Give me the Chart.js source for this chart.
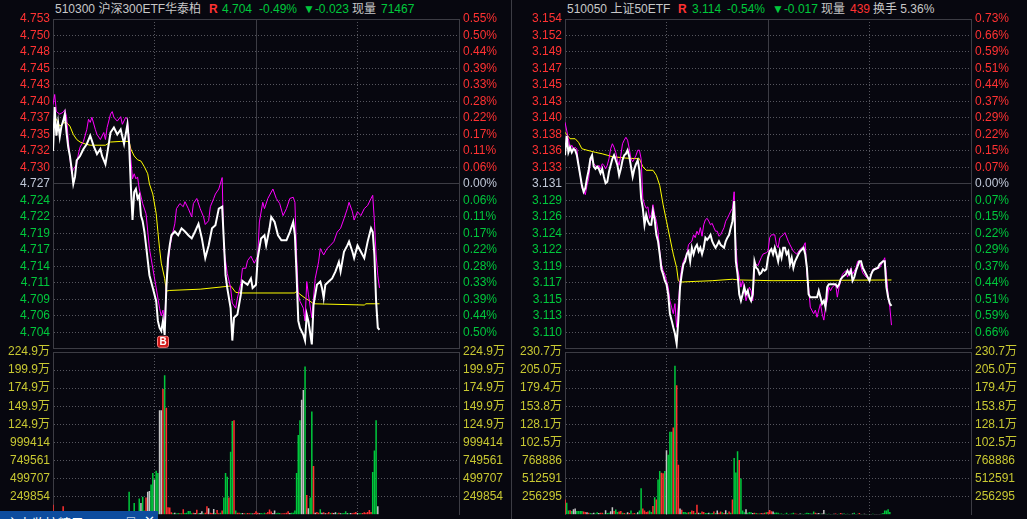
<!DOCTYPE html>
<html lang="zh">
<head>
<meta charset="utf-8">
<title>分时图</title>
<script src="https://cdn.jsdelivr.net/npm/chart.js@4.4.1/dist/chart.umd.min.js"></script>
<style>
  html, body { margin: 0; padding: 0; }
  body { width: 1027px; height: 519px; overflow: hidden; position: relative; background: #07070f;
         font-family: "Liberation Sans", "Noto Sans CJK SC", sans-serif; }
  canvas { position: absolute; }
  .t { position: absolute; top: 0; height: 18px; line-height: 18px; font-size: 12px; white-space: nowrap; color: #c8c8c8; }
  .r { color: #ff3232; }
  .g { color: #00c83c; }
  .b { font-weight: bold; }
  #sep { position: absolute; left: 511px; top: 0; width: 1px; height: 519px; background: #3c3c44; }
  #tool { position: absolute; left: 0; top: 511px; width: 158px; height: 8px; background: #0d4c9e; overflow: hidden; color: #fff; font-size: 13px; }
  #tool span { position: absolute; top: 2px; white-space: nowrap; }
</style>
</head>
<body>
<div class="t" style="left:55px">510300 沪深300ETF华泰柏</div>
<div class="t r b" style="left:209px">R</div>
<div class="t g" style="left:222px">4.704</div>
<div class="t g" style="left:259px">-0.49%</div>
<div class="t g" style="left:303px">▼-0.023</div>
<div class="t" style="left:352px">现量</div>
<div class="t g" style="left:381px">71467</div>

<div class="t" style="left:567px">510050 上证50ETF</div>
<div class="t r b" style="left:678px">R</div>
<div class="t g" style="left:692px">3.114</div>
<div class="t g" style="left:727px">-0.54%</div>
<div class="t g" style="left:772px">▼-0.017</div>
<div class="t" style="left:821px">现量</div>
<div class="t r" style="left:850px">439</div>
<div class="t" style="left:873px">换手 5.36%</div>

<canvas id="hsPriceCv" width="511" height="360" style="left:0;top:0"></canvas>
<canvas id="hsVolCv" width="511" height="186" style="left:0;top:340px"></canvas>
<canvas id="szPriceCv" width="515" height="360" style="left:512px;top:0"></canvas>
<canvas id="szVolCv" width="515" height="186" style="left:512px;top:340px"></canvas>
<div id="sep"></div>
<div id="tool"><span style="left:6px">主力监控精灵</span><span style="left:127px">□</span><span style="left:144px">✕</span></div>

<script>
// ---------- 510300 沪深300ETF ----------
const hsPrevClose = 4.727;
const hsPriceTicks = ['4.753','4.750','4.748','4.745','4.743','4.740','4.737','4.735','4.732','4.730',
                      '4.727','4.724','4.722','4.719','4.717','4.714','4.711','4.709','4.706','4.704'];
const hsPctTicks = ['0.55%','0.50%','0.44%','0.39%','0.33%','0.28%','0.22%','0.17%','0.11%','0.06%',
                    '0.00%','0.06%','0.11%','0.17%','0.22%','0.28%','0.33%','0.39%','0.44%','0.50%'];
const hsVolTicks = ['249854','499707','749561','999414','124.9万','149.9万','174.9万','199.9万','224.9万'];
const hsVolUnit = 249853.6;

// [minute, price]
const hsPrice = [[0,4.7322],[1,4.7391],[2,4.7346],[3,4.7367],[4,4.7344],[5,4.7361],[6,4.7369],[7,4.7380],[8,4.7351],[9,4.7328],
  [10,4.7314],[11,4.7294],[12,4.7270],[13,4.7281],[14,4.7307],[16,4.7314],[18,4.7325],[20,4.7333],[22,4.7346],[24,4.7330],
  [26,4.7317],[28,4.7325],[29,4.7314],[31,4.7301],[32,4.7317],[34,4.7351],[36,4.7359],[38,4.7348],[40,4.7356],[42,4.7333],
  [44,4.7364],[45,4.7333],[46,4.7267],[47,4.7213],[48,4.7257],[49,4.7262],[50,4.7247],[51,4.7252],[52,4.7220],[53,4.7211],
  [54,4.7195],[55,4.7173],[57,4.7126],[59,4.7106],[61,4.7085],[62,4.7054],[63,4.7043],[64,4.7038],[65,4.7054],[66,4.7032],
  [67,4.7106],[68,4.7153],[69,4.7173],[70,4.7189],[72,4.7195],[74,4.7189],[76,4.7200],[78,4.7195],[80,4.7189],[82,4.7184],
  [84,4.7195],[86,4.7207],[88,4.7184],[90,4.7153],[92,4.7173],[94,4.7200],[96,4.7205],[98,4.7231],[100,4.7234],[102,4.7126],
  [103,4.7106],[105,4.7074],[106,4.7023],[107,4.7059],[109,4.7064],[111,4.7095],[112,4.7117],[115,4.7111],[117,4.7121],[118,4.7106],
  [120,4.7111],[121,4.7153],[123,4.7184],[125,4.7189],[126,4.7173],[128,4.7200],[129,4.7218],[131,4.7210],[133,4.7189],[135,4.7181],
  [138,4.7181],[140,4.7194],[142,4.7210],[143,4.7189],[144,4.7126],[145,4.7054],[146,4.7043],[148,4.7032],[149,4.7023],[150,4.7064],
  [151,4.7053],[153,4.7017],[154,4.7079],[156,4.7111],[158,4.7116],[159,4.7106],[160,4.7090],[161,4.7111],[163,4.7116],[165,4.7121],
  [167,4.7132],[169,4.7147],[170,4.7132],[172,4.7163],[174,4.7173],[175,4.7179],[177,4.7163],[178,4.7153],[180,4.7173],[182,4.7163],
  [184,4.7153],[186,4.7179],[188,4.7200],[189,4.7194],[190,4.7158],[191,4.7085],[192,4.7043],[193,4.7040]];

// overlaid index (magenta)
const hsIndex = [[0,4.7395],[1,4.7411],[2,4.7384],[4,4.7380],[6,4.7383],[7,4.7387],[8,4.7376],[9,4.7340],[10,4.7312],[11,4.7286],
  [12,4.7293],[14,4.7301],[15,4.7317],[16,4.7328],[18,4.7337],[20,4.7356],[21,4.7372],[22,4.7367],[23,4.7375],[25,4.7356],
  [26,4.7348],[28,4.7340],[30,4.7351],[31,4.7340],[32,4.7359],[34,4.7380],[35,4.7384],[36,4.7375],[38,4.7369],[40,4.7376],
  [41,4.7364],[43,4.7375],[44,4.7372],[46,4.7309],[47,4.7278],[48,4.7286],[49,4.7278],[50,4.7281],[51,4.7262],[53,4.7239],
  [55,4.7223],[57,4.7168],[59,4.7137],[61,4.7106],[63,4.7074],[64,4.7062],[65,4.7071],[66,4.7051],[67,4.7113],[69,4.7168],
  [70,4.7184],[72,4.7207],[73,4.7231],[75,4.7239],[77,4.7234],[78,4.7242],[80,4.7231],[82,4.7218],[83,4.7239],[85,4.7247],
  [87,4.7231],[89,4.7218],[90,4.7206],[92,4.7212],[93,4.7234],[95,4.7247],[96,4.7254],[98,4.7262],[100,4.7280],[101,4.7168],
  [103,4.7129],[105,4.7106],[106,4.7082],[108,4.7074],[109,4.7090],[111,4.7113],[112,4.7137],[114,4.7137],[115,4.7149],[117,4.7156],
  [119,4.7145],[121,4.7156],[122,4.7210],[124,4.7241],[125,4.7231],[127,4.7247],[130,4.7262],[132,4.7247],[134,4.7239],[136,4.7220],
  [138,4.7231],[140,4.7247],[142,4.7249],[143,4.7241],[144,4.7158],[145,4.7095],[146,4.7085],[148,4.7074],[149,4.7054],[150,4.7116],
  [151,4.7095],[153,4.7059],[155,4.7121],[157,4.7147],[158,4.7168],[160,4.7158],[162,4.7168],[164,4.7173],[166,4.7179],[168,4.7194],
  [170,4.7200],[172,4.7215],[174,4.7231],[175,4.7241],[177,4.7226],[178,4.7213],[180,4.7226],[182,4.7220],[184,4.7231],[186,4.7236],
  [188,4.7247],[189,4.7252],[190,4.7211],[191,4.7158],[192,4.7126],[193,4.7106]];

// average price (yellow)
const hsAvg = [[1,4.7375],[2,4.7372],[4,4.7361],[6,4.7366],[8,4.7367],[10,4.7361],[12,4.7348],[14,4.7340],[16,4.7336],[19,4.7333],
  [22,4.7331],[31,4.7331],[34,4.7336],[40,4.7337],[45,4.7337],[46,4.7325],[48,4.7314],[50,4.7308],[52,4.7306],[54,4.7297],
  [56,4.7286],[57,4.7270],[59,4.7254],[61,4.7223],[62,4.7195],[63,4.7168],[64,4.7145],[66,4.7121],[67,4.7101],[69,4.7102],
  [87,4.7104],[105,4.7109],[106,4.7106],[108,4.7099],[111,4.7098],[143,4.7098],[144,4.7101],[146,4.7096],[149,4.7090],[152,4.7085],
  [154,4.7081],[184,4.7079],[185,4.7081],[193,4.7081]];

// volume per minute, and bar colour (r up, g down, w flat)
const hsVol = [140000,45000,38000,30000,52000,28000,117000,35000,42000,50000,
  38000,45000,30000,26000,33000,22000,30000,25000,28000,20000,
  35000,24000,22000,30000,26000,20000,28000,22000,18000,24000,
  20000,25000,30000,28000,32000,26000,22000,24000,20000,22000,
  26000,30000,24000,28000,35000,320000,50000,40000,162000,45000,
  40000,225000,162000,249000,60000,238000,320000,330000,419000,577000,
  486000,608000,577000,1445000,1445000,1738000,1927000,1478000,104000,100000,
  36000,20000,30000,18000,25000,20000,22000,77000,24000,28000,
  54000,54000,22000,30000,26000,70000,20000,25000,50000,22000,
  30000,117000,90000,30000,25000,80000,26000,68000,22000,28000,
  60000,238000,577000,527000,238000,870000,1297000,1306000,60000,30000,
  30000,22000,25000,20000,18000,24000,20000,22000,18000,26000,
  50000,30000,20000,24000,18000,28000,22000,40000,72000,45000,
  24000,60000,22000,30000,26000,18000,20000,22000,30000,50000,
  24000,30000,30000,60000,577000,1103000,1306000,1590000,1725000,2049000,
  275000,90000,238000,1428000,675000,30000,40000,30000,75000,30000,
  35000,20000,22000,40000,24000,30000,25000,35000,20000,28000,
  22000,20000,26000,50000,22000,20000,24000,22000,30000,40000,
  24000,20000,22000,26000,35000,30000,40000,68000,40000,590000,
  887000,1306000,117000];
const hsDir = ('rgrgrwrggg rgrrrwrgrr rgrggwgrgg rgrrrrwgrg rgrrgggggg ggwggrwwgg wggwwrgrrr rgwggrgrgg gggrwrgwwg rrwrrwgrrg ' +
  'rgggrggrgr rgwrgrrgwr rrwgggrrrr wwgggrrrrr wggggggwwg rwggrwrrgw rwrrgrwwgr wgggwgwrrr wggrrrrrrg ggw').replace(/ /g, '').split('');

const buyMark = { minute: 65.3, text: 'B' };

// ---------- 510050 上证50ETF ----------
const szPrevClose = 3.131;
const szPriceTicks = ['3.154','3.152','3.149','3.147','3.145','3.143','3.140','3.138','3.136','3.133',
                      '3.131','3.129','3.126','3.124','3.122','3.119','3.117','3.115','3.113','3.110'];
const szPctTicks = ['0.73%','0.66%','0.59%','0.51%','0.44%','0.37%','0.29%','0.22%','0.15%','0.07%',
                    '0.00%','0.07%','0.15%','0.22%','0.29%','0.37%','0.44%','0.51%','0.59%','0.66%'];
const szVolTicks = ['256295','512591','768886','102.5万','128.1万','153.8万','179.4万','205.0万','230.7万'];
const szVolUnit = 256295.3;

const szPrice = [[0,3.1350],[1,3.1377],[2,3.1354],[3,3.1361],[4,3.1354],[5,3.1359],[6,3.1357],[7,3.1350],[8,3.1336],[9,3.1322],
  [10,3.1308],[11,3.1299],[12,3.1304],[13,3.1318],[14,3.1329],[15,3.1345],[16,3.1350],[17,3.1334],[18,3.1331],[19,3.1334],
  [20,3.1331],[21,3.1325],[22,3.1331],[23,3.1320],[24,3.1311],[25,3.1313],[26,3.1327],[27,3.1336],[28,3.1345],[29,3.1350],
  [30,3.1343],[31,3.1336],[32,3.1322],[33,3.1331],[34,3.1343],[35,3.1350],[36,3.1352],[37,3.1357],[38,3.1348],[39,3.1334],
  [40,3.1320],[41,3.1331],[42,3.1338],[43,3.1343],[44,3.1329],[45,3.1290],[46,3.1276],[47,3.1253],[48,3.1267],[49,3.1258],
  [50,3.1253],[51,3.1253],[52,3.1272],[53,3.1260],[54,3.1239],[55,3.1230],[56,3.1212],[57,3.1191],[58,3.1184],[59,3.1175],
  [60,3.1170],[61,3.1156],[62,3.1129],[63,3.1120],[64,3.1110],[65,3.1101],[66,3.1087],[67,3.1120],[68,3.1166],[69,3.1184],
  [70,3.1198],[71,3.1202],[72,3.1212],[73,3.1216],[74,3.1202],[75,3.1221],[76,3.1212],[77,3.1221],[78,3.1225],[79,3.1216],
  [80,3.1221],[81,3.1212],[82,3.1221],[83,3.1235],[84,3.1232],[85,3.1235],[86,3.1239],[87,3.1230],[88,3.1225],[89,3.1221],
  [90,3.1225],[91,3.1230],[92,3.1225],[93,3.1223],[94,3.1221],[95,3.1230],[96,3.1235],[97,3.1239],[98,3.1249],[99,3.1258],
  [100,3.1286],[101,3.1202],[102,3.1184],[103,3.1156],[104,3.1147],[105,3.1156],[106,3.1166],[107,3.1156],[108,3.1161],[109,3.1152],
  [110,3.1147],[111,3.1156],[112,3.1202],[113,3.1193],[114,3.1191],[115,3.1184],[116,3.1186],[117,3.1191],[118,3.1189],[119,3.1191],
  [120,3.1207],[121,3.1216],[122,3.1219],[123,3.1212],[124,3.1221],[125,3.1212],[126,3.1202],[127,3.1216],[128,3.1207],[129,3.1221],
  [130,3.1221],[131,3.1212],[132,3.1216],[133,3.1198],[134,3.1207],[135,3.1193],[136,3.1202],[137,3.1207],[138,3.1212],[139,3.1216],
  [141,3.1221],[142,3.1212],[143,3.1193],[144,3.1156],[145,3.1152],[147,3.1152],[149,3.1152],[150,3.1161],[151,3.1152],[152,3.1143],
  [153,3.1147],[154,3.1138],[155,3.1166],[156,3.1170],[158,3.1170],[160,3.1170],[161,3.1166],[162,3.1170],[163,3.1177],[164,3.1180],
  [166,3.1184],[167,3.1189],[168,3.1184],[169,3.1189],[170,3.1175],[171,3.1180],[172,3.1189],[174,3.1202],[175,3.1202],[176,3.1193],
  [178,3.1184],[180,3.1175],[181,3.1184],[182,3.1189],[183,3.1191],[185,3.1193],[186,3.1198],[187,3.1200],[188,3.1202],[189,3.1202],
  [190,3.1166],[191,3.1152],[192,3.1143],[193,3.1140]];

const szIndex = [[0,3.1396],[2,3.1373],[3,3.1359],[4,3.1364],[5,3.1359],[6,3.1361],[7,3.1359],[8,3.1336],[9,3.1322],[10,3.1304],
  [11,3.1301],[12,3.1295],[13,3.1308],[14,3.1318],[15,3.1341],[16,3.1345],[17,3.1338],[18,3.1336],[19,3.1331],[20,3.1336],
  [21,3.1331],[22,3.1338],[23,3.1336],[24,3.1331],[25,3.1336],[26,3.1345],[27,3.1359],[28,3.1366],[29,3.1361],[30,3.1354],
  [31,3.1343],[32,3.1336],[33,3.1350],[34,3.1366],[35,3.1371],[36,3.1375],[37,3.1371],[38,3.1359],[39,3.1345],[40,3.1341],
  [41,3.1345],[42,3.1350],[43,3.1357],[44,3.1357],[45,3.1345],[46,3.1290],[47,3.1281],[48,3.1276],[49,3.1278],[50,3.1262],
  [51,3.1267],[52,3.1281],[53,3.1267],[54,3.1258],[55,3.1244],[56,3.1216],[57,3.1198],[58,3.1189],[59,3.1184],[60,3.1175],
  [61,3.1166],[62,3.1147],[63,3.1138],[64,3.1129],[65,3.1143],[66,3.1110],[67,3.1143],[68,3.1175],[69,3.1193],[70,3.1202],
  [71,3.1207],[72,3.1212],[73,3.1225],[74,3.1228],[75,3.1230],[76,3.1239],[77,3.1235],[78,3.1244],[79,3.1239],[80,3.1249],
  [81,3.1237],[82,3.1253],[83,3.1260],[84,3.1262],[85,3.1258],[86,3.1253],[87,3.1255],[88,3.1249],[89,3.1244],[90,3.1244],
  [91,3.1237],[92,3.1239],[93,3.1244],[94,3.1249],[95,3.1258],[96,3.1262],[97,3.1267],[98,3.1272],[99,3.1276],[100,3.1299],
  [101,3.1225],[102,3.1193],[103,3.1180],[104,3.1166],[105,3.1175],[106,3.1161],[107,3.1147],[108,3.1156],[109,3.1166],[110,3.1161],
  [111,3.1147],[112,3.1193],[113,3.1198],[114,3.1196],[116,3.1207],[117,3.1212],[119,3.1214],[120,3.1216],[121,3.1235],[122,3.1239],
  [124,3.1239],[125,3.1225],[126,3.1221],[127,3.1235],[129,3.1239],[130,3.1242],[132,3.1230],[133,3.1225],[135,3.1216],[137,3.1212],
  [139,3.1219],[141,3.1223],[142,3.1228],[143,3.1184],[144,3.1166],[145,3.1138],[147,3.1129],[148,3.1134],[149,3.1124],[150,3.1134],
  [151,3.1143],[152,3.1129],[153,3.1120],[154,3.1138],[155,3.1147],[156,3.1166],[157,3.1161],[158,3.1166],[160,3.1170],[161,3.1152],
  [162,3.1166],[163,3.1175],[164,3.1184],[166,3.1189],[167,3.1180],[169,3.1193],[170,3.1184],[172,3.1193],[173,3.1202],[174,3.1202],
  [176,3.1186],[178,3.1180],[180,3.1177],[181,3.1184],[182,3.1191],[184,3.1191],[186,3.1193],[188,3.1202],[189,3.1207],[190,3.1184],
  [191,3.1156],[192,3.1138],[193,3.1113]];

const szAvg = [[0,3.1382],[3,3.1373],[6,3.1373],[8,3.1368],[10,3.1359],[13,3.1357],[18,3.1354],[22,3.1352],[25,3.1350],[28,3.1348],
  [36,3.1346],[44,3.1345],[46,3.1334],[48,3.1329],[52,3.1329],[54,3.1322],[56,3.1308],[58,3.1281],[60,3.1258],[62,3.1235],
  [64,3.1212],[66,3.1193],[67,3.1175],[68,3.1173],[77,3.1174],[87,3.1175],[99,3.1177],[103,3.1176],[123,3.1175],[193,3.1176]];

const szVol = [218000,171000,60000,65000,55000,80000,88000,55000,55000,55000,
  55000,45000,40000,35000,30000,25000,20000,30000,20000,35000,
  25000,30000,30000,20000,65000,25000,30000,50000,107000,55000,
  76000,40000,45000,55000,30000,25000,20000,35000,25000,60000,
  20000,25000,20000,35000,60000,375000,90000,60000,40000,45000,
  60000,40000,125000,250000,218000,500000,621000,597000,590000,621000,
  913000,850000,1177000,1177000,1237000,2113000,1835000,709000,90000,70000,
  40000,40000,30000,35000,40000,60000,55000,25000,143000,30000,
  25000,45000,40000,25000,25000,30000,20000,25000,45000,25000,
  60000,30000,45000,35000,25000,65000,25000,45000,30000,218000,
  806000,600000,899000,778000,514000,60000,35000,80000,30000,40000,
  35000,25000,30000,25000,20000,20000,25000,20000,30000,35000,
  40000,68000,50000,45000,30000,32000,28000,15000,18000,12000,
  15000,30000,12000,15000,20000,30000,18000,15000,12000,20000,
  15000,12000,18000,30000,25000,20000,15000,45000,30000,20000,
  25000,15000,20000,68000,15000,12000,15000,10000,12000,15000,
  18000,12000,15000,25000,15000,18000,12000,15000,10000,12000,
  18000,30000,12000,15000,25000,12000,10000,15000,12000,10000,
  12000,10000,15000,10000,12000,10000,12000,15000,25000,60000,
  60000,80000,40000];
const szDir = ('rggrgwwggg grrwrgwwgg wrrgwggwwr ggrrgrgwrg rrgwggrrrr ggrgrggrrg wgggrgrrwr gggrgrrgrw grrggwggrg wrrgrwgrgr ' +
  'gggrgggwgg gwrgrgrwrg rrrwgggggw ggwgggrrww gwggggwgrw wgwwgwgwgw rwgrwgwgwg wgwgrwgwwg wwgwwwwggg ggg').replace(/ /g, '').split('');

// ---------- drawing ----------
const RED = '#ff3232', GREEN = '#00c83c', MID = '#c0c8d8', VOLTXT = '#c8c832';
const SOLID = '#3c3c44', DOT = '#56565e';
const BAR = { r: '#ff3030', g: '#00c83c', w: '#c4c4c4' };
const PLOT_W = 406, LEFT_W = 53;

Chart.defaults.font.family = '"Liberation Sans", "Noto Sans CJK SC", sans-serif';
Chart.defaults.font.size = 12;

function pts(arr) {
  return arr.map(p => ({ x: p[0], y: p[1] }));
}

function timeAxis() {
  return {
    type: 'linear', min: 0, max: 240, offset: false,
    afterBuildTicks: s => { s.ticks = [0, 60, 120, 180, 240].map(v => ({ value: v })); },
    ticks: { display: false },
    grid: {
      offset: false, drawTicks: false,
      color: c => {
        const v = c.tick ? c.tick.value : 0;
        if (v === 120) return SOLID;
        return (v === 60 || v === 180) ? DOT : 'rgba(0,0,0,0)';
      }
    },
    border: { display: false, dash: c => (c.tick && c.tick.value !== 120) ? [1, 2] : [] }
  };
}

function sideAxis(pos, min, max, n, width, pad, label, color, gridOn, solidIdx) {
  return {
    type: 'linear', position: pos, min: min, max: max,
    afterBuildTicks: s => {
      s.ticks = [];
      for (let i = 0; i <= n; i++) s.ticks.push({ value: min + (max - min) * i / n });
    },
    afterFit: s => { s.width = width; },
    ticks: { autoSkip: false, padding: pad, color: color, callback: (v, i) => label(i) },
    grid: {
      display: gridOn, drawTicks: false,
      color: c => solidIdx.includes(c.index) ? SOLID : (c.index === 0 ? 'rgba(0,0,0,0)' : DOT)
    },
    border: {
      display: true, color: SOLID,
      dash: c => (c.tick && !solidIdx.includes(c.index)) ? [1, 2] : []
    }
  };
}

const markPlugin = {
  id: 'buyMark',
  afterDatasetsDraw(chart, args, opts) {
    if (!opts || !opts.show) return;
    const { ctx, chartArea, scales } = chart;
    const cx = Math.round(scales.x.getPixelForValue(buyMark.minute));
    const top = chartArea.bottom - 13;
    ctx.save();
    ctx.fillStyle = '#d01818';
    ctx.strokeStyle = '#ff8080';
    ctx.lineWidth = 1;
    ctx.beginPath();
    ctx.roundRect(cx - 5.5, top + 0.5, 11, 11, 2);
    ctx.fill();
    ctx.stroke();
    ctx.fillStyle = '#ffffff';
    ctx.font = 'bold 10px "Liberation Sans"';
    ctx.textAlign = 'center';
    ctx.textBaseline = 'middle';
    ctx.fillText(buyMark.text, cx, top + 6.5);
    ctx.restore();
  }
};

function priceChart(id, totalW, prevClose, priceTicks, pctTicks, price, index, avg, showMark) {
  const range = parseFloat(priceTicks[0]) - prevClose;
  const rightW = totalW - LEFT_W - PLOT_W;
  const priceColor = c => c.index > 10 ? RED : (c.index === 10 ? MID : GREEN);
  return new Chart(document.getElementById(id), {
    type: 'line',
    data: {
      datasets: [
        { data: pts(price), borderColor: '#ffffff', borderWidth: 2, order: 0 },
        { data: pts(index), borderColor: '#ff00ff', borderWidth: 1, order: 1 },
        { data: pts(avg), borderColor: '#ffff00', borderWidth: 1, order: 2 }
      ]
    },
    options: {
      responsive: false, animation: false, devicePixelRatio: 1, events: [],
      layout: { padding: { top: 19, bottom: 8, left: 0, right: 0 } },
      elements: { point: { radius: 0 }, line: { tension: 0 } },
      plugins: { legend: { display: false }, tooltip: { enabled: false }, buyMark: { show: showMark } },
      scales: {
        x: timeAxis(),
        y: sideAxis('left', prevClose - range, prevClose + range, 20, LEFT_W, 3,
                    i => i === 0 ? '' : priceTicks[20 - i], priceColor, true, [0, 10, 20]),
        yr: sideAxis('right', 0, 20, 20, rightW, 4,
                     i => i === 0 ? '' : pctTicks[20 - i], priceColor, false, [0, 10, 20])
      }
    },
    plugins: [markPlugin]
  });
}

function volumeChart(id, totalW, vol, dir, unit, volTicks) {
  const rightW = totalW - LEFT_W - PLOT_W;
  return new Chart(document.getElementById(id), {
    type: 'bar',
    data: {
      datasets: [{
        data: vol.map((v, i) => ({ x: i, y: v })),
        backgroundColor: dir.map(d => BAR[d]),
        borderWidth: 0, barPercentage: 0.9, categoryPercentage: 1
      }]
    },
    options: {
      responsive: false, animation: false, devicePixelRatio: 1, events: [],
      layout: { padding: { top: 12, bottom: 8, left: 0, right: 0 } },
      plugins: { legend: { display: false }, tooltip: { enabled: false } },
      scales: {
        x: timeAxis(),
        y: sideAxis('left', 0, unit * 9, 9, LEFT_W, 3,
                    i => i === 0 ? '' : volTicks[i - 1], VOLTXT, true, [9]),
        yr: sideAxis('right', 0, 9, 9, rightW, 4,
                     i => i === 0 ? '' : volTicks[i - 1], VOLTXT, false, [9])
      }
    }
  });
}

priceChart('hsPriceCv', 511, hsPrevClose, hsPriceTicks, hsPctTicks, hsPrice, hsIndex, hsAvg, true);
volumeChart('hsVolCv', 511, hsVol, hsDir, hsVolUnit, hsVolTicks);
priceChart('szPriceCv', 515, szPrevClose, szPriceTicks, szPctTicks, szPrice, szIndex, szAvg, false);
volumeChart('szVolCv', 515, szVol, szDir, szVolUnit, szVolTicks);
</script>
</body>
</html>
